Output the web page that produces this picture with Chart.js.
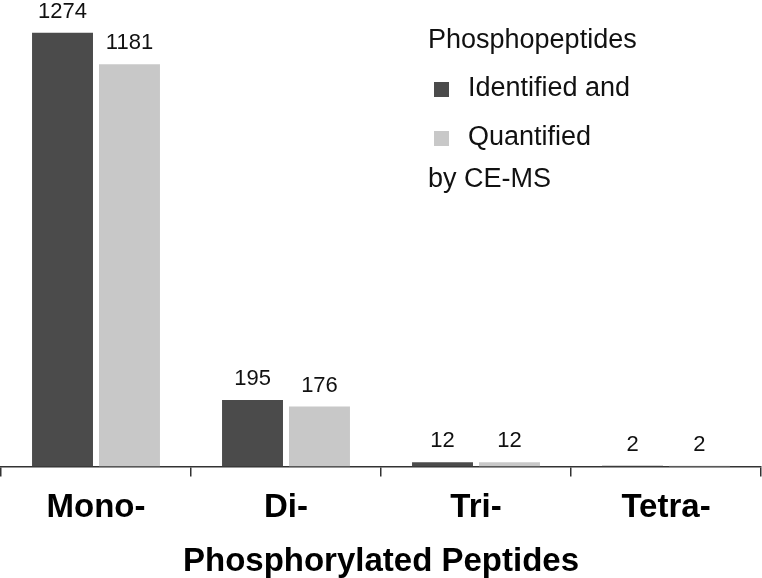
<!DOCTYPE html>
<html>
<head>
<meta charset="utf-8">
<script src="https://cdn.jsdelivr.net/npm/chart.js@4/dist/chart.umd.min.js"></script>
<style>
  html, body { margin: 0; padding: 0; background: #fff; }
  #wrap { width: 762px; height: 578px; }
</style>
</head>
<body>
<div id="wrap"><canvas id="myChart" width="762" height="578"></canvas></div>
<script>
const categories = ['Mono-', 'Di-', 'Tri-', 'Tetra-'];
const identified = [1274, 195, 12, 2];
const quantified = [1181, 176, 12, 2];
const seriesNames = ['Identified and', 'Quantified'];
const legendTitle = 'Phosphopeptides';
const legendFooter = 'by CE-MS';
const axisTitle = 'Phosphorylated Peptides';

const darkGray = '#4b4b4b';
const lightGray = '#c8c8c8';
const FONT = '"Liberation Sans", Arial, Helvetica, sans-serif';

// numbers above each bar
const valueLabels = {
    id: 'valueLabels',
    afterDatasetsDraw(chart) {
        const ctx = chart.ctx;
        ctx.save();
        ctx.font = '22px ' + FONT;
        ctx.fillStyle = '#111';
        ctx.textAlign = 'center';
        ctx.textBaseline = 'bottom';
        chart.data.datasets.forEach((ds, i) => {
            chart.getDatasetMeta(i).data.forEach((bar, j) => {
                ctx.fillText(String(ds.data[j]), bar.x, bar.y - 10);
            });
        });
        ctx.restore();
    }
};

// legend block in the upper right
const sideLegend = {
    id: 'sideLegend',
    afterDraw(chart) {
        const ctx = chart.ctx;
        ctx.save();
        ctx.font = '27px ' + FONT;
        ctx.fillStyle = '#111';
        ctx.textAlign = 'left';
        ctx.textBaseline = 'middle';
        ctx.fillText(legendTitle, 428, 41);
        const rows = [89, 138];
        chart.data.datasets.forEach((ds, i) => {
            ctx.fillStyle = ds.backgroundColor;
            ctx.fillRect(434, rows[i] - 7, 15, 15);
            ctx.fillStyle = '#111';
            ctx.fillText(ds.label, 468, rows[i]);
        });
        ctx.fillText(legendFooter, 428, 180);
        ctx.restore();
    }
};

const data = {
    labels: categories,
    datasets: [
        { label: seriesNames[0], data: identified, backgroundColor: darkGray },
        { label: seriesNames[1], data: quantified, backgroundColor: lightGray }
    ]
};

const config = {
    type: 'bar',
    data: data,
    options: {
        responsive: false,
        animation: false,
        layout: { padding: { left: 1, right: 1, top: 0, bottom: 0 } },
        datasets: { bar: { categoryPercentage: 0.705, barPercentage: 0.91 } },
        plugins: {
            legend: { display: false },
            tooltip: { enabled: false }
        },
        scales: {
            x: {
                grid: {
                    display: true,
                    offset: true,
                    drawOnChartArea: false,
                    drawTicks: true,
                    tickLength: 10,
                    color: '#333',
                    lineWidth: 1.5
                },
                border: { display: true, color: '#333', width: 1.5 },
                ticks: {
                    color: '#000',
                    padding: 12,
                    font: { family: FONT, size: 33, weight: 'bold', lineHeight: 1.2 }
                },
                title: {
                    display: true,
                    text: axisTitle,
                    color: '#000',
                    padding: { top: 5, bottom: 0 },
                    font: { family: FONT, size: 33, weight: 'bold', lineHeight: 1.0 }
                }
            },
            y: {
                display: false,
                min: 0,
                max: 1370
            }
        }
    },
    plugins: [valueLabels, sideLegend]
};

const myChart = new Chart(document.getElementById('myChart'), config);
</script>
</body>
</html>
